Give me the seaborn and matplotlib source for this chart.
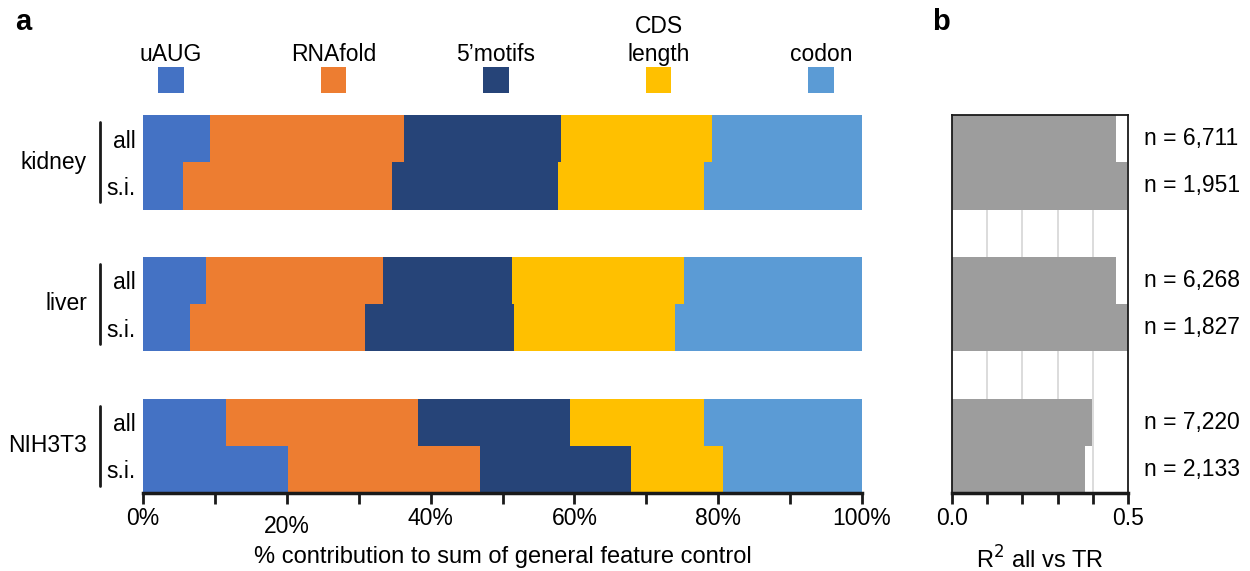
import numpy as np
import pandas as pd
import matplotlib
matplotlib.use("Agg")
import matplotlib.pyplot as plt
from matplotlib.patches import Rectangle
from matplotlib.lines import Line2D
from matplotlib.transforms import ScaledTranslation
import seaborn as sns

sns.set_style("white")
plt.rcParams["font.family"] = ["Liberation Sans", "DejaVu Sans"]
plt.rcParams.update({"text.color": "black", "axes.labelcolor": "black",
                     "xtick.color": "black", "ytick.color": "black"})

# ---- data -------------------------------------------------------------
groups = ["kidney", "liver", "NIH3T3"]
subsets = ["all", "s.i."]
features = ["uAUG", "RNAfold", "5\u2019motifs", "CDS\nlength", "codon"]
colors = ["#4472C4", "#ED7D31", "#264478", "#FFC000", "#5B9BD5"]

# % contribution of each feature, rows: kidney all/s.i., liver all/s.i., NIH3T3 all/s.i.
uaug     = [9.3, 5.6, 8.7, 6.5, 11.5, 20.2]
rnafold  = [27.0, 29.0, 24.7, 24.4, 26.8, 26.7]
motifs5  = [21.8, 23.1, 17.9, 20.7, 21.1, 21.0]
cds_len  = [21.0, 20.3, 23.9, 22.4, 18.6, 12.7]
codon    = [20.9, 22.0, 24.8, 26.0, 22.0, 19.4]

r2_all_vs_tr = [0.465, 0.497, 0.465, 0.505, 0.398, 0.378]
n_genes = ["6,711", "1,951", "6,268", "1,827", "7,220", "2,133"]

# row positions: two touching bars per group, one empty row between groups
row_pos = [0, 1, 3, 4, 6, 7]

contrib = np.array([uaug, rnafold, motifs5, cds_len, codon])
cum = np.cumsum(contrib, axis=0)

FS = 16.5
fig = plt.figure(figsize=(12.5, 5.71), dpi=100)
W, H = 1250, 571

def px_axes(x0, x1, y0, y1):
    return fig.add_axes([x0 / W, 1 - y1 / H, (x1 - x0) / W, (y1 - y0) / H])

ax = px_axes(143, 862, 115, 493)
axb = px_axes(952, 1128, 115, 493)

# ---- panel a: stacked contributions ------------------------------------
for k in range(len(features) - 1, -1, -1):
    df = pd.DataFrame({"pct": cum[k], "row": row_pos})
    sns.barplot(data=df, x="pct", y="row", orient="h", native_scale=True,
                color=colors[k], saturation=1, width=1.0, errorbar=None,
                linewidth=0, ax=ax)

ax.set_xlim(0, 100)
ax.set_ylim(7.5, -0.5)
for s in ["top", "right", "left"]:
    ax.spines[s].set_visible(False)
ax.spines["bottom"].set_linewidth(2.5)
ax.spines["bottom"].set_color("#1a1a1a")
ax.set_xticks(np.arange(0, 101, 10))
ax.set_xticklabels([f"{v}%" if v % 20 == 0 else "" for v in range(0, 101, 10)],
                   fontsize=FS)
ax.tick_params(axis="x", bottom=True, direction="out", length=8, width=2,
               color="#1a1a1a", pad=2)
for lab in ax.get_xticklabels():
    if lab.get_text() == "20%":
        lab.set_transform(lab.get_transform() + ScaledTranslation(0, -6 / 72, fig.dpi_scale_trans))
ax.set_xlabel("% contribution to sum of general feature control", fontsize=17)
ax.xaxis.set_label_coords(0.5, -0.14)

ax.set_yticks(row_pos)
ax.set_yticklabels(subsets * len(groups), fontsize=FS)
ax.tick_params(axis="y", length=0, pad=5)
ax.set_ylabel("")

for gi, g in enumerate(groups):
    top, bot = row_pos[2 * gi], row_pos[2 * gi + 1]
    ax.add_line(Line2D([-6.0, -6.0], [top - 0.35, bot + 0.35], color="#1a1a1a",
                       lw=2, clip_on=False))
    ax.text(-7.8, (top + bot) / 2, g, ha="right", va="center", fontsize=FS)

# legend: colour squares with feature names above
for k, (f, c) in enumerate(zip(features, colors)):
    xc = 3.9 + k * 22.6
    ax.add_patch(Rectangle((xc - 1.8, -0.966), 3.6, -0.55, facecolor=c,
                           edgecolor="none", clip_on=False))
    ax.text(xc, -1.64, f, ha="center", va="baseline", fontsize=FS,
            linespacing=1.3)

fig.text(15 / W, 1 - 22 / H, "a", fontsize=21, fontweight="bold", va="center")
fig.text(932 / W, 1 - 22 / H, "b", fontsize=21, fontweight="bold", va="center")

# ---- panel b: R^2 all vs TR ---------------------------------------------
for xv in [0.1, 0.2, 0.3, 0.4]:
    axb.axvline(xv, color="#d9d9d9", lw=1.3, zorder=0)
dfb = pd.DataFrame({"r2": r2_all_vs_tr, "row": row_pos})
sns.barplot(data=dfb, x="r2", y="row", orient="h", native_scale=True,
            color="#9d9d9d", saturation=1, width=1.0, errorbar=None,
            linewidth=0, ax=axb, zorder=2)
axb.set_xlim(0, 0.5)
axb.set_ylim(7.5, -0.5)
for s in ["top", "left", "right"]:
    axb.spines[s].set_linewidth(1.3)
    axb.spines[s].set_color("#1a1a1a")
axb.spines["bottom"].set_linewidth(2.5)
axb.spines["bottom"].set_color("#1a1a1a")
axb.set_xticks(np.arange(0, 0.51, 0.1))
axb.set_xticklabels(["0.0", "", "", "", "", "0.5"], fontsize=FS)
axb.tick_params(axis="x", bottom=True, direction="out", length=8, width=2,
                color="#1a1a1a", pad=2)
axb.set_yticks([])
axb.set_ylabel("")
axb.set_xlabel("R$^2$ all vs TR", fontsize=17)
axb.xaxis.set_label_coords(0.5, -0.14)
for p, n in zip(row_pos, n_genes):
    axb.text(0.545, p, f"n = {n}", ha="left", va="center", fontsize=FS,
             transform=axb.transData, clip_on=False)

fig.savefig("out.png", dpi=100)
